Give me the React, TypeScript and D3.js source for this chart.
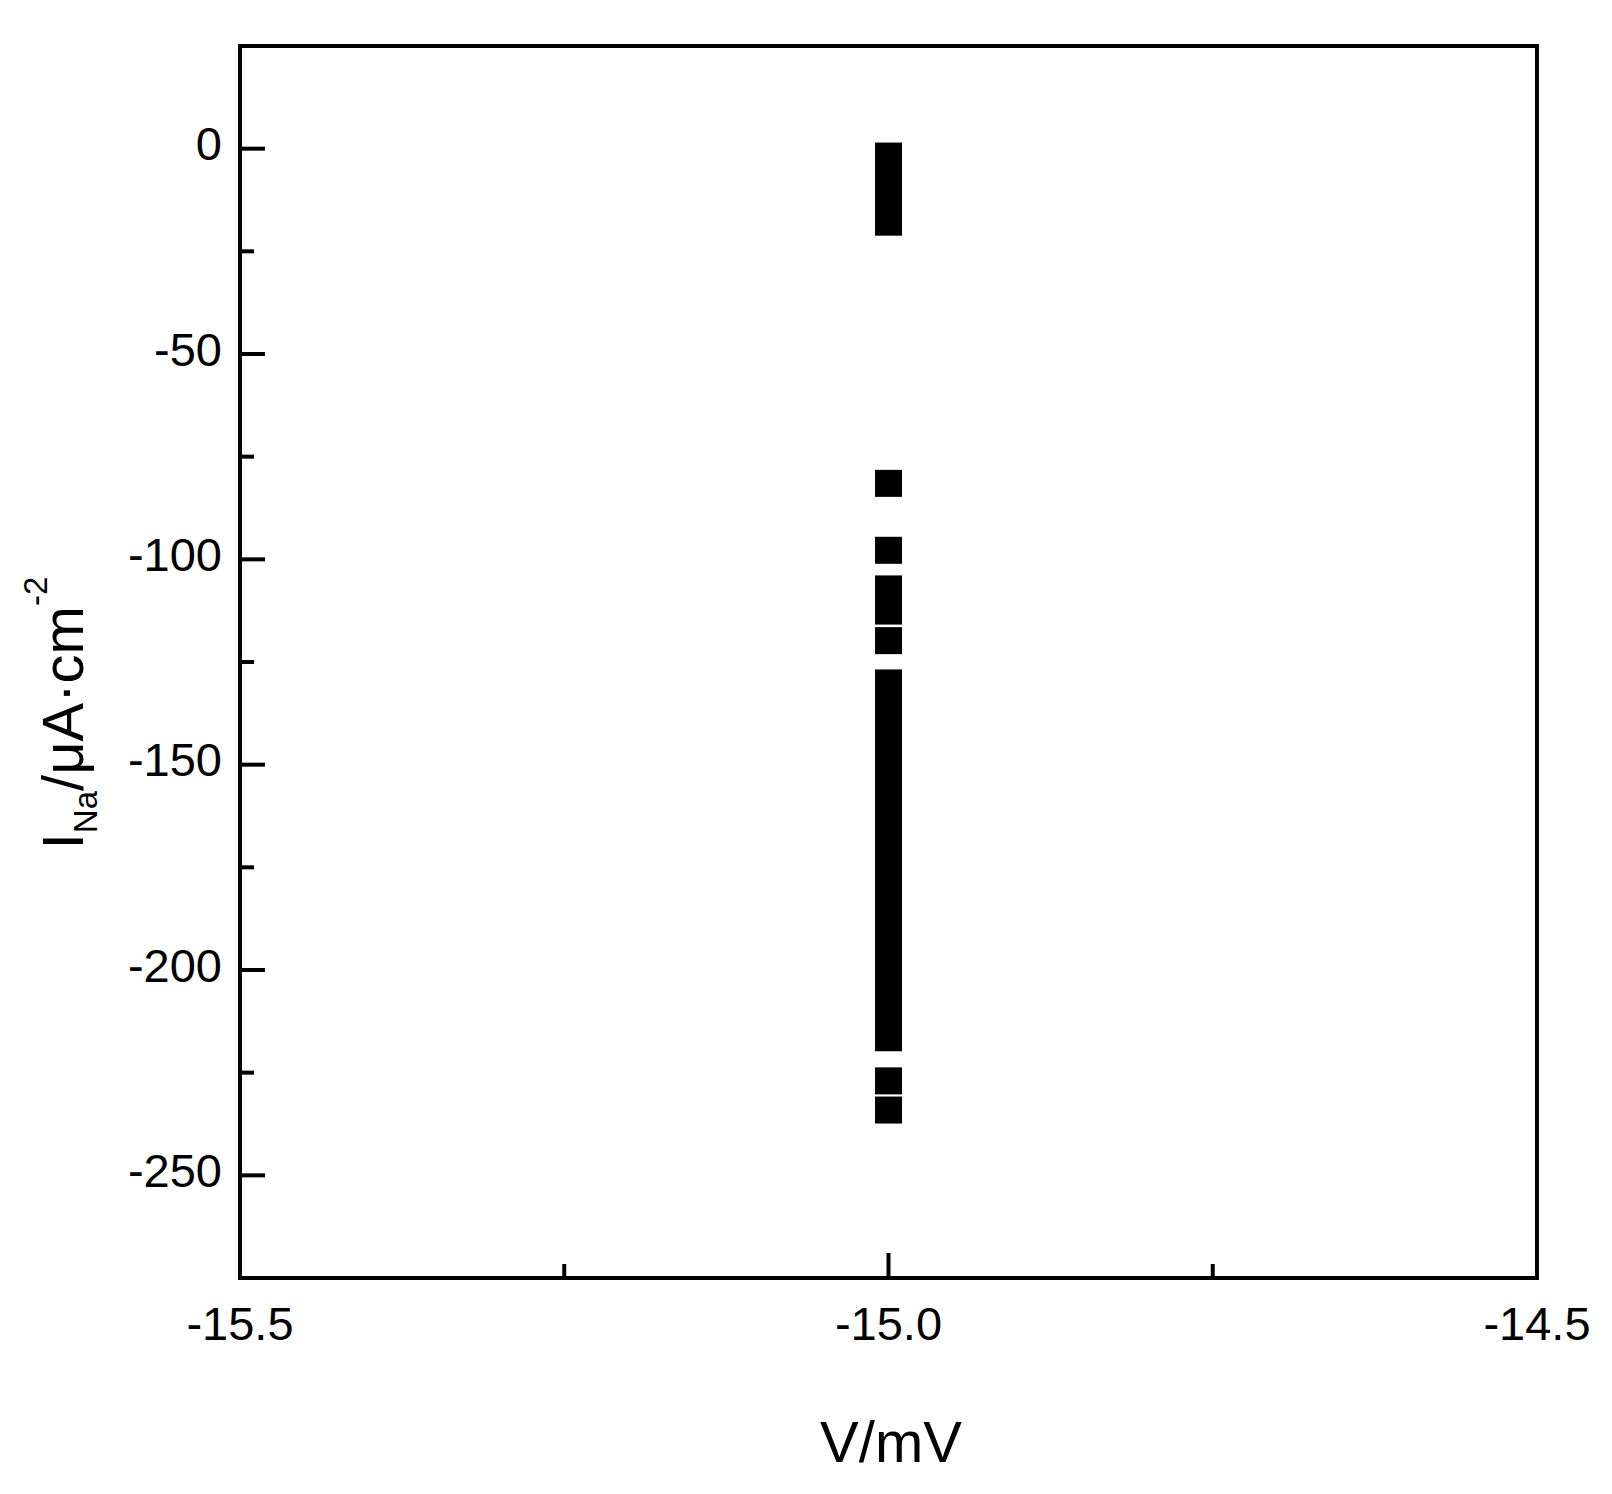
import React from "react";
import * as d3 from "d3";

// all points sit at the same membrane potential
const voltage = -15.0;
// sodium current values (µA/cm²)
const currents = [
  -1.8, -4.5, -7.2, -9.9, -12.6, -15.3, -17.9,
  -81.5, -97.8, -107.2, -112.6, -119.8,
  -130.1, -134.0, -138.2, -142.5, -146.3, -150.4, -154.1, -158.7, -162.5,
  -166.8, -170.9, -174.6, -178.8, -183.1, -187.0, -191.2, -195.3, -199.4,
  -203.6, -207.9, -212.2, -216.5,
  -227.0, -234.1,
];
const xTicks = [-15.5, -15.0, -14.5];
const xMinor = [-15.25, -14.75];
const yTicks = [0, -50, -100, -150, -200, -250];
const yMinor = [-25, -75, -125, -175, -225];

const W = 1612;
const H = 1494;
const left = 240, right = 1537, top = 46, bottom = 1278;
const font = "'Liberation Sans', Arial, sans-serif";

export default function App() {
  const x = d3.scaleLinear().domain([-15.5, -14.5]).range([left, right]);
  const y = d3.scaleLinear().domain([-275, 25]).range([bottom, top]);
  const fmtX = (v: number) => d3.format(".1f")(v).replace("\u2212", "-");
  const fmtY = (v: number) => d3.format("d")(v).replace("\u2212", "-");
  const size = 27;

  return (
    <svg width={W} height={H} style={{ position: "absolute", left: 0, top: 0, display: "block" }}
      fontFamily={font}>
      <rect width={W} height={H} fill="#fff" />

      {/* markers */}
      {currents.map((c, i) => (
        <rect key={i} x={x(voltage) - size / 2} y={y(c) - size / 2}
          width={size} height={size} fill="#000" />
      ))}

      {/* y ticks, inward */}
      {yTicks.map(t => (
        <g key={"y" + t}>
          <line x1={left} x2={left + 25} y1={y(t)} y2={y(t)} stroke="#000" strokeWidth={4} />
          <text x={left - 18} y={y(t) + 11.5} textAnchor="end" fontSize={47}>{fmtY(t)}</text>
        </g>
      ))}
      {yMinor.map(t => (
        <line key={"ym" + t} x1={left} x2={left + 14} y1={y(t)} y2={y(t)} stroke="#000" strokeWidth={4} />
      ))}

      {/* x ticks, inward */}
      {xTicks.map(t => (
        <g key={"x" + t}>
          <line x1={x(t)} x2={x(t)} y1={bottom} y2={bottom - 25} stroke="#000" strokeWidth={4} />
          <text x={x(t)} y={1340} textAnchor="middle" fontSize={47}>{fmtX(t)}</text>
        </g>
      ))}
      {xMinor.map(t => (
        <line key={"xm" + t} x1={x(t)} x2={x(t)} y1={bottom} y2={bottom - 14} stroke="#000" strokeWidth={4} />
      ))}

      {/* frame */}
      <rect x={left} y={top} width={right - left} height={bottom - top}
        fill="none" stroke="#000" strokeWidth={4} />

      {/* axis titles */}
      <text x={891} y={1462} textAnchor="middle" fontSize={58}>V/mV</text>
      <text transform="translate(83,713) rotate(-90)" textAnchor="middle" fontSize={58}>
        I<tspan fontSize={33} dy={14}>Na</tspan>
        <tspan dy={-14}>/μA·cm</tspan>
        <tspan fontSize={33} dy={-36}>-2</tspan>
      </text>
    </svg>
  );
}
